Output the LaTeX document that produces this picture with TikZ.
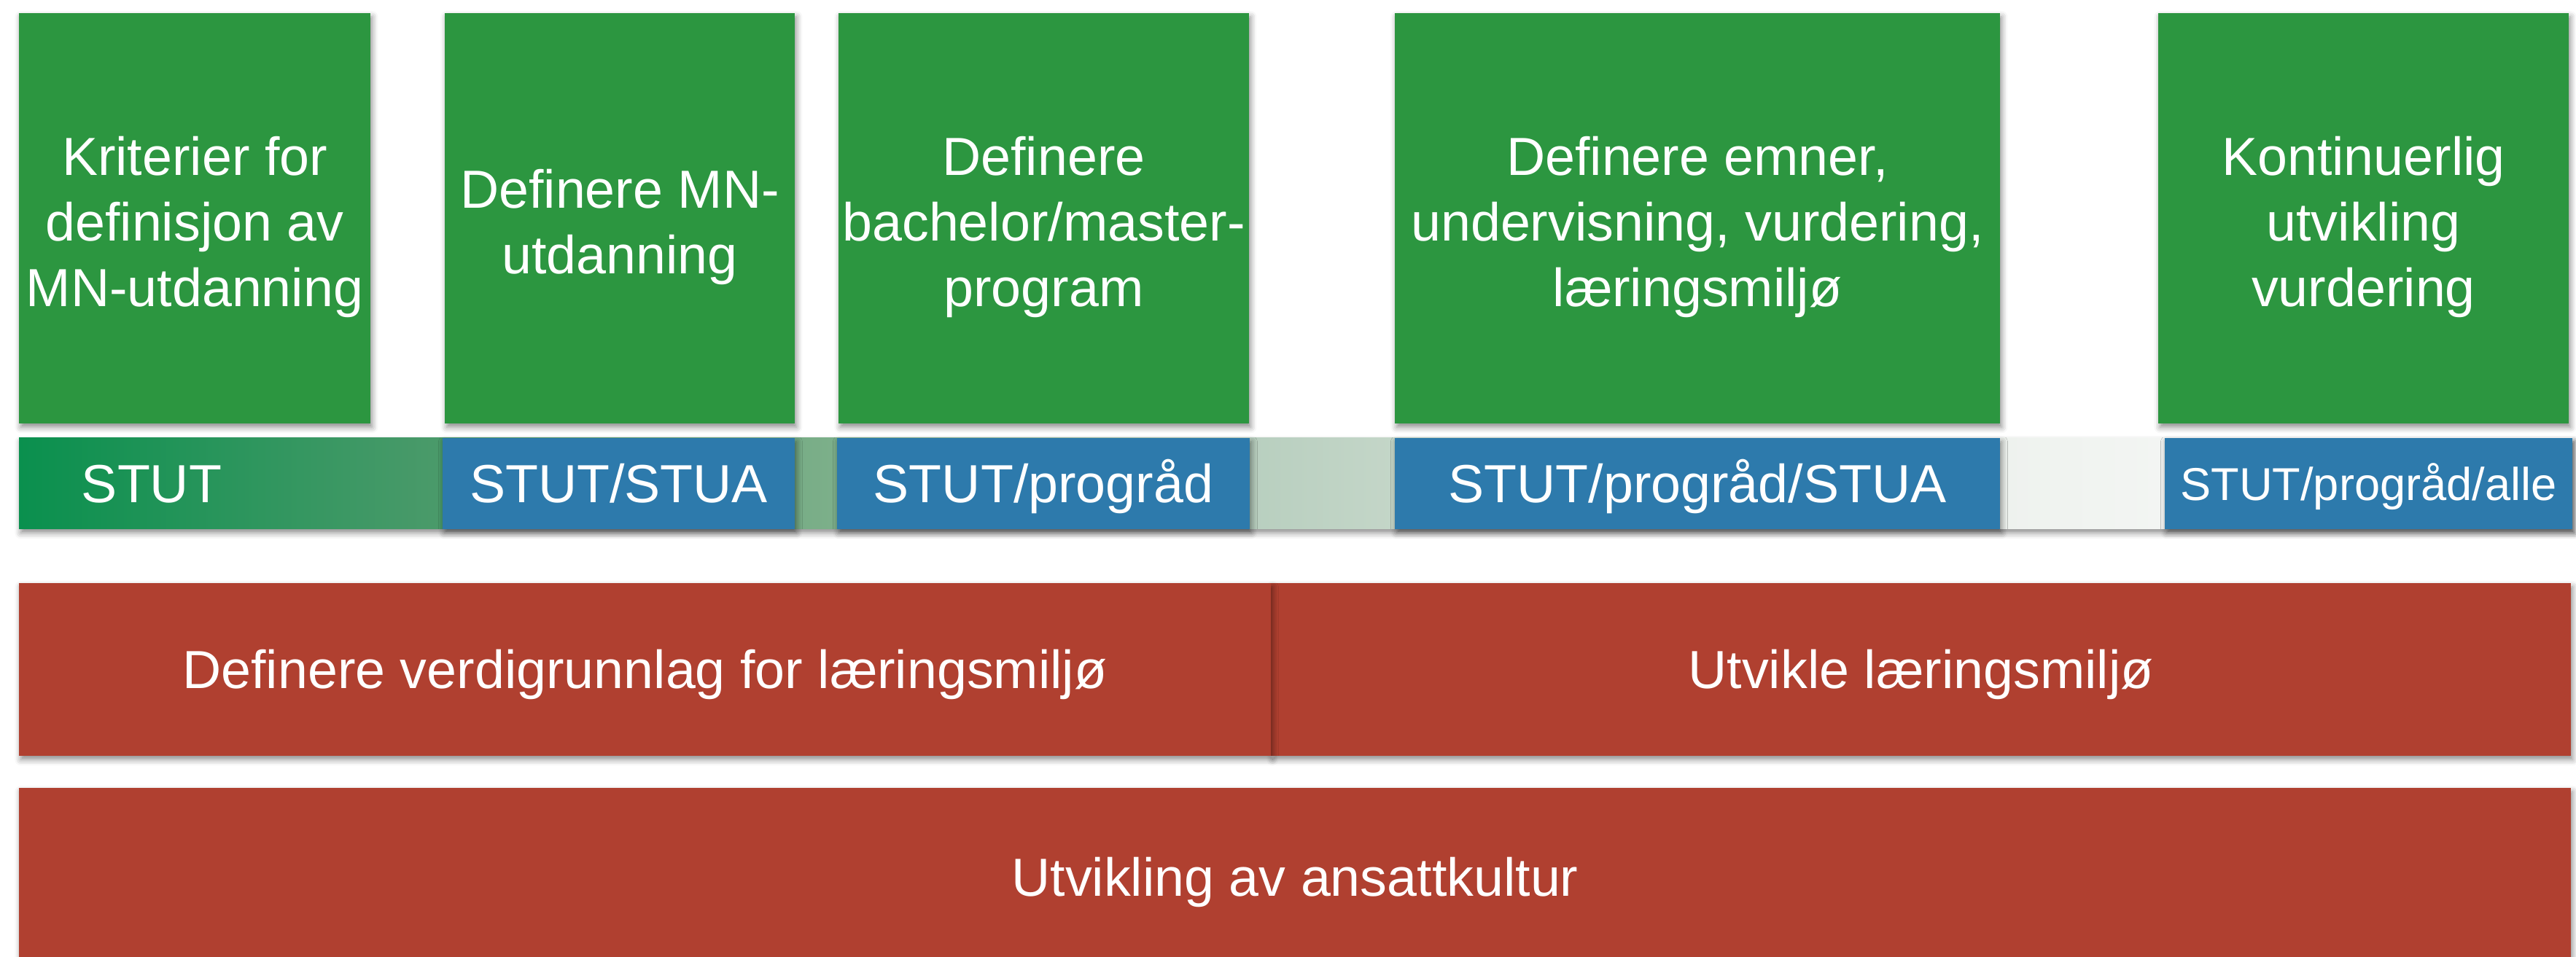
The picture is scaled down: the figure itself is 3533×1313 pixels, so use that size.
\documentclass[tikz,border=0pt]{standalone}
\usepackage{fontspec}
\setmainfont{Liberation Sans}
\usetikzlibrary{shadows.blur}
\definecolor{gfill}{RGB}{44,150,64}
\definecolor{bfill}{RGB}{45,122,172}
\definecolor{rfill}{RGB}{176,64,48}
\definecolor{sA}{RGB}{10,144,78}
\definecolor{sB}{RGB}{74,154,106}
\definecolor{sC}{RGB}{122,174,136}
\definecolor{sD}{RGB}{184,207,191}
\definecolor{sE}{RGB}{196,214,200}
\definecolor{sF}{RGB}{238,242,238}
\definecolor{sG}{RGB}{243,245,243}
\definecolor{sH}{RGB}{248,249,248}
\pgfdeclarehorizontalshading{stutbar}{100bp}{color(0bp)=(sA); color(25bp)=(sA); color(33.2bp)=(sB); color(40.6bp)=(sC); color(49.1bp)=(sD); color(51.95bp)=(sE); color(63.8bp)=(sF); color(67bp)=(sG); color(75bp)=(sH); color(100bp)=(sH)}
\begin{document}
\begin{tikzpicture}[x=0.25pt,y=-0.25pt,
  every node/.style={inner sep=0pt, outer sep=0pt},
  shd/.style={blur shadow={shadow xshift=0.6pt, shadow yshift=-1.3pt, shadow blur radius=2pt, shadow opacity=45}},
  bigtxt/.style={text=white, align=center, font=\fontsize{18.4}{22.5}\selectfont},
  oneline/.style={text height=13.2pt, text depth=0pt},
  gbox/.style={shd, fill=gfill, minimum height=140.75pt},
  gtxt/.style={bigtxt, yshift=-3pt},
  bbox/.style={shd, fill=bfill, bigtxt, oneline, minimum height=31.25pt},
  rbox/.style={shd, fill=rfill, bigtxt, oneline},
  barbg/.style={shd, shading=stutbar, minimum height=31.25pt}]
\useasboundingbox (0,0) rectangle (3533,1313);
\clip (0,0) rectangle (3533,1313);
% top green boxes
\node[gbox, minimum width=120.5pt, label={[gtxt]center:{Kriterier for\\definisjon av\\MN-utdanning}}] (g1) at (267,299.5) {};
\node[gbox, minimum width=120pt, label={[gtxt]center:{Definere MN-\\utdanning}}] (g2) at (850,299.5) {};
\node[gbox, minimum width=140.75pt, label={[gtxt]center:{Definere\\bachelor/master-\\program}}] (g3) at (1431.5,299.5) {};
\node[gbox, minimum width=207.5pt, label={[gtxt]center:{Definere emner,\\undervisning, vurdering,\\læringsmiljø}}] (g4) at (2328,299.5) {};
\node[gbox, minimum width=140.75pt, label={[gtxt]center:{Kontinuerlig\\utvikling\\vurdering}}] (g5) at (3241.5,299.5) {};
% label bar
\node[barbg, minimum width=875.5pt] (bar) at (1777,663.5) {};
\node[bigtxt, oneline] (stut) at (208,663.5) {STUT};
\node[bbox, minimum width=120.75pt] (b1) at (848.5,663.5) {STUT/STUA};
\node[bbox, minimum width=141.5pt] (b2) at (1431,663.5) {STUT/progråd};
\node[bbox, minimum width=207.5pt] (b3) at (2328,663.5) {STUT/progråd/STUA};
\node[bbox, minimum width=139.75pt, font=\fontsize{15.8}{19}\selectfont, text height=11.3pt] (b4) at (3248.5,663.5) {STUT/progråd/alle};
% red bars
\node[rbox, minimum width=445.75pt, minimum height=59.25pt] (r2) at (2634.5,918.5) {Utvikle læringsmiljø};
\node[rbox, minimum width=429.25pt, minimum height=59.25pt] (r1) at (884.5,918.5) {Definere verdigrunnlag for læringsmiljø};
\node[rbox, minimum width=875pt, minimum height=61pt] (r3) at (1776,1203) {Utvikling av ansattkultur};
\end{tikzpicture}
\end{document}
